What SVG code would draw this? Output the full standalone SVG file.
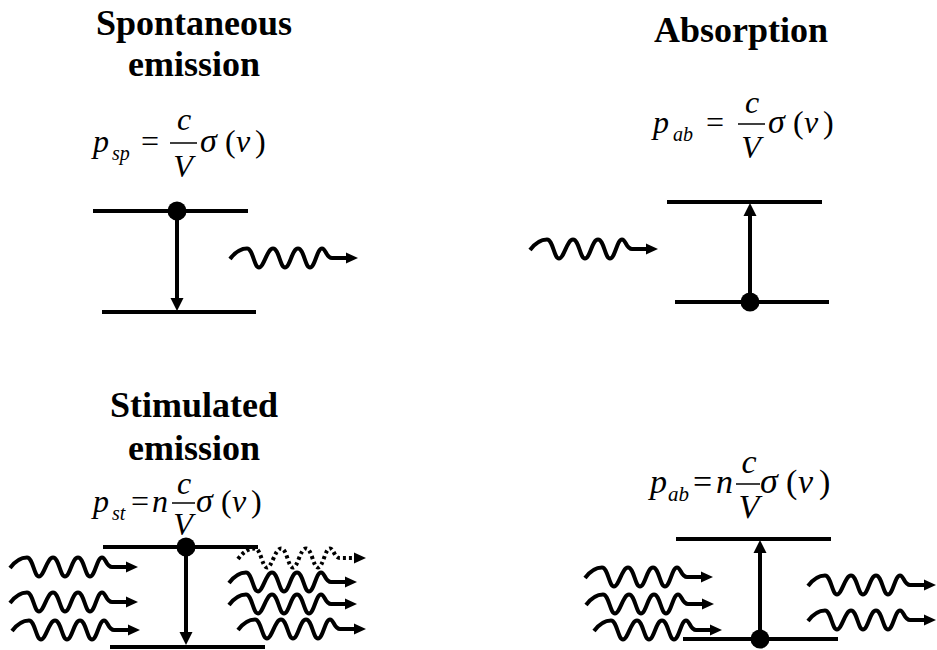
<svg xmlns="http://www.w3.org/2000/svg" width="937" height="650" viewBox="0 0 937 650">
<defs>
<g id="wave">
<path d="M0,1 C6,-7 11,-9.5 17,-9.5 C23,-9.5 24,9.5 29,9.5 C34,9.5 37,-9.5 43,-9.5 C49,-9.5 50,9.5 55,9.5 C60,9.5 62,-9.5 68,-9.5 C74,-9.5 75,9.5 80,9.5 C85,9.5 87,-9.5 92,-9.5 C96,-9.5 96,0 102,0 L118,0"/>
<path d="M128,0 L116,-5.5 L116,5.5 Z" fill="#000" stroke="none"/>
</g>
<path id="hd" d="M0,0 L-6.5,-13 L6.5,-13 Z" fill="#000" stroke="none"/>
</defs>

<g id="spontaneous" font-family="Liberation Serif, Times New Roman, serif" fill="#000">
<text x="194" y="35" font-weight="bold" font-size="36" text-anchor="middle">Spontaneous</text>
<text x="194" y="76" font-weight="bold" font-size="36" text-anchor="middle">emission</text>
<text x="93" y="152" font-style="italic" font-size="32">p</text>
<text x="112" y="160" font-style="italic" font-size="20">sp</text>
<text x="141" y="152" font-size="32">=</text>
<line x1="170" y1="143" x2="197" y2="143" stroke="#000" stroke-width="1.5"/>
<text x="184" y="130" text-anchor="middle" font-style="italic" font-size="32">c</text>
<text x="183" y="177" text-anchor="middle" font-style="italic" font-size="32">V</text>
<text x="200" y="152" font-style="italic" font-size="34">σ</text>
<text x="225" y="152" font-size="32">(</text>
<text x="236" y="152" font-style="italic" font-size="32">ν</text>
<text x="255" y="152" font-size="32">)</text>
<g stroke="#000" stroke-width="4">
<line x1="93" y1="211" x2="248" y2="211"/>
<line x1="102" y1="312" x2="256" y2="312"/>
</g>
<circle cx="177" cy="211" r="9.5"/>
</g>

<g id="absorption" font-family="Liberation Serif, Times New Roman, serif" fill="#000">
<text x="741" y="42" font-weight="bold" font-size="36" text-anchor="middle">Absorption</text>
<text x="653" y="133" font-style="italic" font-size="32">p</text>
<text x="673" y="141" font-style="italic" font-size="20">ab</text>
<text x="706" y="133" font-size="32">=</text>
<line x1="738" y1="124" x2="765" y2="124" stroke="#000" stroke-width="1.5"/>
<text x="752" y="113" text-anchor="middle" font-style="italic" font-size="32">c</text>
<text x="751" y="158" text-anchor="middle" font-style="italic" font-size="32">V</text>
<text x="768" y="133" font-style="italic" font-size="34">σ</text>
<text x="793" y="133" font-size="32">(</text>
<text x="804" y="133" font-style="italic" font-size="32">ν</text>
<text x="823" y="133" font-size="32">)</text>
<g stroke="#000" stroke-width="4">
<line x1="667" y1="202" x2="822" y2="202"/>
<line x1="675" y1="302" x2="829" y2="302"/>
</g>
<circle cx="750" cy="302" r="9.5"/>
</g>

<g id="stimulated" font-family="Liberation Serif, Times New Roman, serif" fill="#000">
<text x="194" y="417" font-weight="bold" font-size="36" text-anchor="middle">Stimulated</text>
<text x="194" y="460" font-weight="bold" font-size="36" text-anchor="middle">emission</text>
<text x="93" y="512" font-style="italic" font-size="32">p</text>
<text x="112" y="520" font-style="italic" font-size="20">st</text>
<text x="131" y="512" font-size="32">=</text>
<text x="152" y="512" font-style="italic" font-size="32">n</text>
<line x1="172" y1="503" x2="195" y2="503" stroke="#000" stroke-width="1.5"/>
<text x="184" y="494" text-anchor="middle" font-style="italic" font-size="32">c</text>
<text x="183" y="535" text-anchor="middle" font-style="italic" font-size="32">V</text>
<text x="196" y="512" font-style="italic" font-size="34">σ</text>
<text x="221" y="512" font-size="32">(</text>
<text x="232" y="512" font-style="italic" font-size="32">ν</text>
<text x="251" y="512" font-size="32">)</text>
<g stroke="#000" stroke-width="4">
<line x1="103" y1="547" x2="258" y2="547"/>
<line x1="110" y1="647" x2="265" y2="647"/>
</g>
<circle cx="186" cy="547" r="9.5"/>
</g>

<g id="absorption-n" font-family="Liberation Serif, Times New Roman, serif" fill="#000">
<text x="650" y="493" font-style="italic" font-size="34">p</text>
<text x="668" y="501" font-style="italic" font-size="21">ab</text>
<text x="693" y="493" font-size="34">=</text>
<text x="716" y="493" font-style="italic" font-size="34">n</text>
<line x1="736" y1="484" x2="760" y2="484" stroke="#000" stroke-width="1.5"/>
<text x="749" y="473" text-anchor="middle" font-style="italic" font-size="34">c</text>
<text x="749" y="518" text-anchor="middle" font-style="italic" font-size="34">V</text>
<text x="760" y="493" font-style="italic" font-size="36">σ</text>
<text x="786" y="493" font-size="34">(</text>
<text x="798" y="493" font-style="italic" font-size="34">ν</text>
<text x="819" y="493" font-size="34">)</text>
<g stroke="#000" stroke-width="4">
<line x1="676" y1="539" x2="831" y2="539"/>
<line x1="683" y1="639" x2="838" y2="639"/>
</g>
<circle cx="760" cy="639" r="9.5"/>
</g>

<g id="connectors" stroke="#000" stroke-width="4" fill="none" stroke-linejoin="round">
<line x1="177" y1="211" x2="177" y2="300"/>
<use href="#hd" transform="translate(177,311)"/>
<line x1="750" y1="302" x2="750" y2="214"/>
<use href="#hd" transform="translate(750,203) rotate(180)"/>
<line x1="186" y1="547" x2="186" y2="634"/>
<use href="#hd" transform="translate(186,645)"/>
<line x1="760" y1="639" x2="760" y2="551"/>
<use href="#hd" transform="translate(760,540) rotate(180)"/>
<use href="#wave" x="230" y="258"/>
<use href="#wave" x="530" y="249"/>
<use href="#wave" x="10" y="567"/>
<use href="#wave" x="10" y="602"/>
<use href="#wave" x="12" y="630"/>
<use href="#wave" x="238" y="558" stroke-dasharray="3 3"/>
<use href="#wave" x="229" y="582"/>
<use href="#wave" x="229" y="604"/>
<use href="#wave" x="238" y="629"/>
<use href="#wave" x="585" y="577"/>
<use href="#wave" x="586" y="604"/>
<use href="#wave" x="594" y="630"/>
<use href="#wave" x="808" y="585"/>
<use href="#wave" x="808" y="620"/>
</g>
</svg>
